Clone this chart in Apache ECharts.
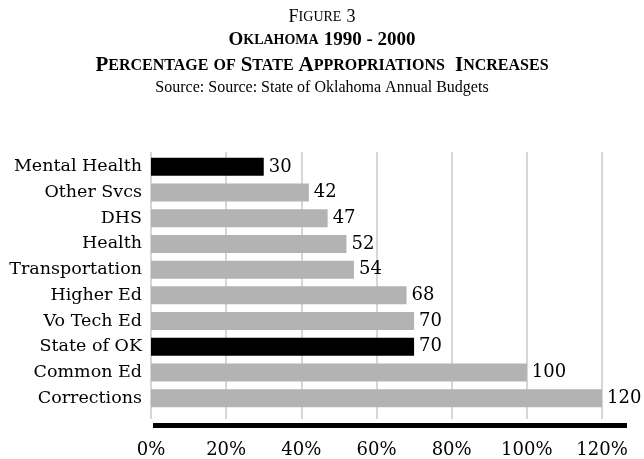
<!DOCTYPE html>
<html>
<head>
<meta charset="utf-8">
<script src="https://cdn.jsdelivr.net/npm/echarts@6/dist/echarts.min.js"></script>
<style>
html, body { margin: 0; padding: 0; background: #fff; }
#chart { width: 644px; height: 459px; }
</style>
</head>
<body>
<div id="chart"></div>
<script>
"use strict";

var categories = ['Mental Health', 'Other Svcs', 'DHS', 'Health', 'Transportation', 'Higher Ed', 'Vo Tech Ed', 'State of OK', 'Common Ed', 'Corrections'];
var increases = [30, 42, 47, 52, 54, 68, 70, 70, 100, 120];
var highlighted = ['Mental Health', 'State of OK'];
var tickValues = [0, 20, 40, 60, 80, 100, 120];

var SERIF = 'DejaVu Serif';
var TITLE_SERIF = 'Liberation Serif';

var barData = [];
for (var i = 0; i < categories.length; i++) {
	barData.push({
		value: increases[i],
		itemStyle: { color: highlighted.indexOf(categories[i]) >= 0 ? '#000000' : '#b3b3b3' }
	});
}

// small caps helper styles for the title rows
function capsRich(big, small, weight) {
	return {
		b: { fontFamily: TITLE_SERIF, fontWeight: weight, fontSize: big, color: '#000' },
		s: { fontFamily: TITLE_SERIF, fontWeight: weight, fontSize: small, color: '#000' }
	};
}

var chart = echarts.init(document.getElementById('chart'));

chart.setOption({
	animation: false,
	backgroundColor: '#ffffff',
	title: [{
		text: '{b|F}{s|IGURE} {b|3}',
		left: 'center', top: 3,
		textStyle: { fontWeight: 'normal', rich: capsRich(18, 14, 'normal') }
	}, {
		text: '{b|O}{s|KLAHOMA} {b|1990 - 2000}',
		left: 'center', top: 26,
		textStyle: { rich: capsRich(19, 14, 'bold') }
	}, {
		text: '{b|P}{s|ERCENTAGE} {s|OF} {b|S}{s|TATE} {b|A}{s|PPROPRIATIONS}  {b|I}{s|NCREASES}',
		left: 'center', top: 50,
		textStyle: { rich: capsRich(21, 16, 'bold') }
	}, {
		text: 'Source: Source: State of Oklahoma Annual Budgets',
		left: 'center', top: 75,
		textStyle: { fontFamily: TITLE_SERIF, fontWeight: 'normal', fontSize: 16, color: '#000' }
	}],
	grid: [{
		// gridlines + tick labels
		left: 151, right: 42, top: 152, bottom: 36
	}, {
		// bars
		left: 151, right: 42, top: 154, bottom: 48
	}],
	xAxis: [{
		gridIndex: 0,
		type: 'value',
		min: 0, max: 120, interval: 20,
		axisLine: { show: false },
		axisTick: { show: false },
		axisLabel: {
			margin: 22,
			fontFamily: SERIF, fontSize: 18, color: '#000',
			formatter: function(v) { return tickValues.indexOf(v) >= 0 ? v + '%' : ''; }
		},
		splitLine: { show: true, lineStyle: { color: '#c8c8c8', width: 1.5 } }
	}, {
		gridIndex: 1,
		type: 'value',
		min: 0, max: 120, interval: 20,
		show: false
	}],
	yAxis: [{
		gridIndex: 0,
		type: 'value',
		show: false
	}, {
		gridIndex: 1,
		type: 'category',
		inverse: true,
		data: categories,
		axisLine: { show: false },
		axisTick: { show: false },
		axisLabel: { margin: 9, fontFamily: SERIF, fontSize: 17.5, color: '#000' }
	}],
	graphic: [{
		type: 'rect',
		shape: { x: 153, y: 423, width: 474, height: 5 },
		style: { fill: '#000' }
	}],
	series: [{
		type: 'bar',
		xAxisIndex: 1,
		yAxisIndex: 1,
		data: barData,
		barWidth: '70%',
		label: {
			show: true, position: 'right', distance: 5,
			fontFamily: SERIF, fontSize: 18, color: '#000'
		}
	}]
});
</script>
</body>
</html>
